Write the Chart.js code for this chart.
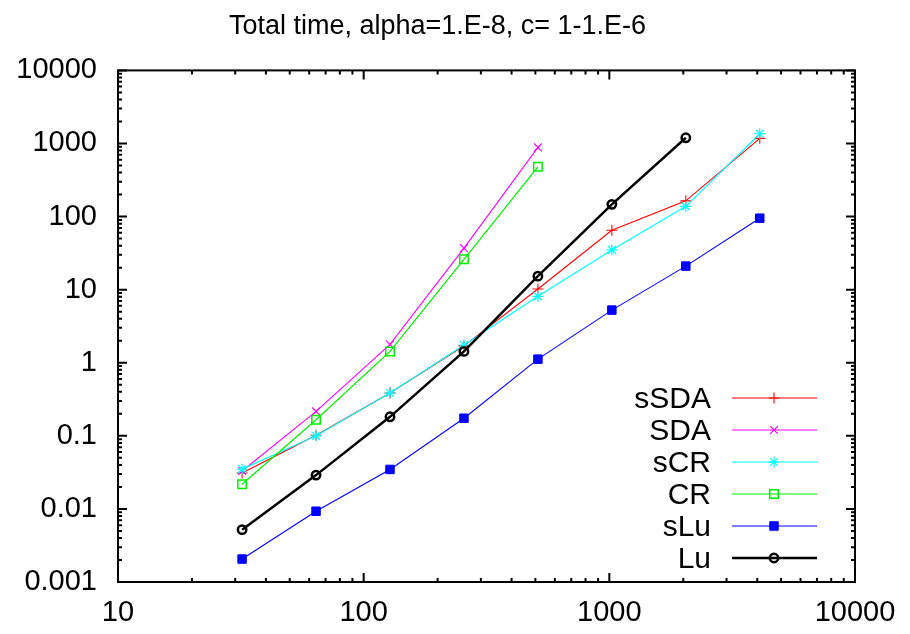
<!DOCTYPE html>
<html>
<head>
<meta charset="utf-8">
<script src="https://cdn.jsdelivr.net/npm/chart.js@4"></script>
<style>
  html, body { margin: 0; padding: 0; background: #fff; }
  #wrap { width: 910px; height: 634px; }
</style>
</head>
<body>
<div id="wrap"><canvas id="timeChart"></canvas></div>
<script>
// problem sizes (x) and total times (y) per solver
const sizes = [32, 64, 128, 256, 512, 1024, 2048, 4096];
const sSDA = [0.031, 0.102, 0.385, 1.7, 10.2, 65, 164, 1175];
const SDA  = [0.033, 0.216, 1.78, 37, 884];
const sCR  = [0.035, 0.1, 0.385, 1.75, 8.1, 35, 138, 1360];
const CR   = [0.0217, 0.166, 1.43, 26, 479];
const sLu  = [0.00206, 0.0093, 0.0347, 0.174, 1.12, 5.25, 21, 95];
const Lu   = [0.0052, 0.029, 0.182, 1.43, 15.3, 147, 1197];

const xTicks = [10, 100, 1000, 10000];
const yTicks = [0.001, 0.01, 0.1, 1, 10, 100, 1000, 10000];
const yTickLabels = ['0.001', '0.01', '0.1', '1', '10', '100', '1000', '10000'];

Chart.defaults.font.family = '"Liberation Sans", Arial, sans-serif';
Chart.defaults.color = '#000';

function pts(arr) {
    return arr.map((v, i) => ({ x: sizes[i], y: v }));
}

function series(label, arr, color, style, radius, width, markWidth, fill, order) {
    return {
        label: label,
        data: pts(arr),
        order: order,
        borderColor: color,
        borderWidth: width,
        pointStyle: style,
        pointRadius: radius,
        pointHoverRadius: radius,
        pointBorderColor: color,
        pointBorderWidth: markWidth,
        pointBackgroundColor: fill ? color : 'rgba(0,0,0,0)',
        tension: 0,
        fill: false
    };
}

// later series are drawn on top, like gnuplot does
const datasets = [
    series('sSDA', sSDA, '#ff0000', 'cross', 5.5, 1.1, 1.1, false, 6),
    series('SDA', SDA, '#ff00ff', 'crossRot', 5.5, 1.1, 1.1, false, 5),
    series('sCR', sCR, '#00ffff', 'star', 5.5, 1.2, 1.2, false, 4),
    series('CR', CR, '#00f000', 'rect', 6, 1.2, 1.5, false, 3),
    series('sLu', sLu, '#0000ff', 'rect', 6, 1.1, 1, true, 2),
    series('Lu', Lu, '#000000', 'circle', 4.2, 2.5, 2.5, false, 1)
];

// gnuplot-like frame with inward ticks on all four sides
const framePlugin = {
    id: 'frame',
    afterDatasetsDraw(chart) {
        const ctx = chart.ctx;
        const a = chart.chartArea;
        const xs = chart.scales.x, ys = chart.scales.y;
        ctx.save();
        ctx.strokeStyle = '#000';
        ctx.lineWidth = 2;
        ctx.strokeRect(a.left, a.top, a.right - a.left, a.bottom - a.top);
        ctx.beginPath();
        function tick(v, len, axis) {
            if (axis === 'x') {
                const p = xs.getPixelForValue(v);
                ctx.moveTo(p, a.bottom); ctx.lineTo(p, a.bottom - len);
                ctx.moveTo(p, a.top); ctx.lineTo(p, a.top + len);
            } else {
                const p = ys.getPixelForValue(v);
                ctx.moveTo(a.left, p); ctx.lineTo(a.left + len, p);
                ctx.moveTo(a.right, p); ctx.lineTo(a.right - len, p);
            }
        }
        xTicks.forEach((d, i) => {
            tick(d, 9, 'x');
            if (i < xTicks.length - 1) for (let m = 2; m <= 9; m++) tick(d * m, 4, 'x');
        });
        yTicks.forEach((d, i) => {
            tick(d, 9, 'y');
            if (i < yTicks.length - 1) for (let m = 2; m <= 9; m++) tick(d * m, 4, 'y');
        });
        ctx.stroke();
        ctx.restore();
    }
};

// legend inside the plot: text on the left, line sample + marker on the right
const keyPlugin = {
    id: 'key',
    afterDraw(chart) {
        const ctx = chart.ctx;
        const a = chart.chartArea;
        const n = chart.data.datasets.length;
        ctx.save();
        ctx.font = '30px "Liberation Sans", Arial, sans-serif';
        ctx.textAlign = 'right';
        ctx.textBaseline = 'middle';
        chart.data.datasets.forEach((ds, i) => {
            const y = a.bottom - 24 - 32 * (n - 1 - i);
            ctx.fillStyle = '#000';
            ctx.fillText(ds.label, a.right - 144, y + 2);
            ctx.strokeStyle = ds.borderColor;
            ctx.lineWidth = ds.borderWidth;
            ctx.beginPath();
            ctx.moveTo(a.right - 123, y);
            ctx.lineTo(a.right - 38, y);
            ctx.stroke();
            ctx.fillStyle = ds.pointBackgroundColor;
            ctx.lineWidth = ds.pointBorderWidth;
            Chart.helpers.drawPoint(ctx, {
                pointStyle: ds.pointStyle,
                radius: ds.pointRadius,
                rotation: 0,
                borderWidth: ds.pointBorderWidth
            }, a.right - 81, y);
        });
        ctx.restore();
    }
};

const ctx = document.getElementById('timeChart').getContext('2d');
const timeChart = new Chart(ctx, {
    type: 'line',
    data: { datasets: datasets },
    options: {
        responsive: true,
        maintainAspectRatio: false,
        animation: false,
        layout: {
            padding: { left: 0, right: 35, top: 0, bottom: 0 }
        },
        scales: {
            x: {
                type: 'logarithmic',
                min: 10,
                max: 10000,
                grid: { display: false, drawTicks: false },
                border: { display: false },
                afterBuildTicks(scale) {
                    scale.ticks = xTicks.map(v => ({ value: v }));
                },
                afterFit(scale) { scale.height = 52; },
                ticks: {
                    autoSkip: false,
                    maxRotation: 0,
                    padding: 14,
                    font: { size: 29 },
                    callback: (v) => String(v)
                }
            },
            y: {
                type: 'logarithmic',
                min: 0.001,
                max: 10000,
                grid: { display: false, drawTicks: false },
                border: { display: false },
                afterBuildTicks(scale) {
                    scale.ticks = yTicks.map(v => ({ value: v }));
                },
                afterFit(scale) { scale.width = 118; },
                ticks: {
                    autoSkip: false,
                    padding: 21,
                    font: { size: 29 },
                    callback: (v, i) => yTickLabels[i]
                }
            },
            // empty spacer on the right so the title sits where it does in the original
            spacer: {
                type: 'linear',
                position: 'right',
                display: true,
                grid: { display: false, drawTicks: false },
                border: { display: false },
                ticks: { display: false },
                afterFit(scale) { scale.width = 20; }
            }
        },
        plugins: {
            legend: { display: false },
            tooltip: { enabled: false },
            title: {
                display: true,
                text: 'Total time, alpha=1.E-8, c= 1-1.E-6',
                color: '#000',
                font: { size: 27, weight: 'normal' },
                padding: { top: 10, bottom: 28 }
            }
        }
    },
    plugins: [framePlugin, keyPlugin]
});
</script>
</body>
</html>
